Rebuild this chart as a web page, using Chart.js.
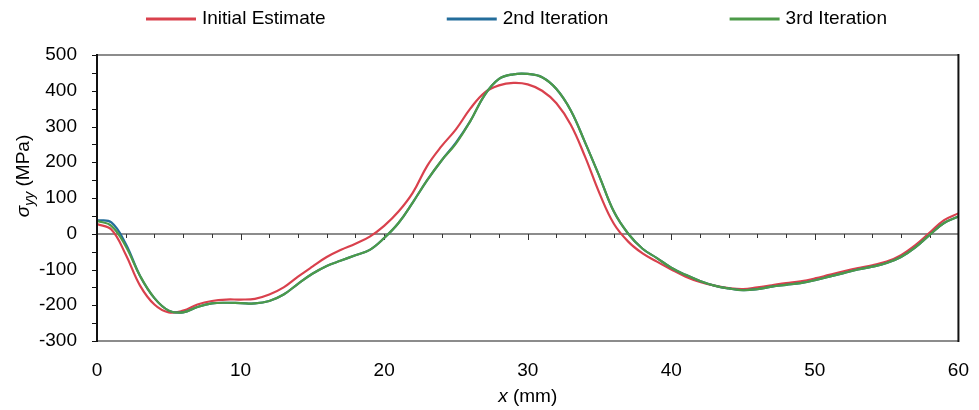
<!DOCTYPE html>
<html>
<head>
<meta charset="utf-8">
<script src="https://cdn.jsdelivr.net/npm/chart.js@4.4.1/dist/chart.umd.min.js"></script>
<style>
  html, body { margin: 0; padding: 0; background: #fff; }
</style>
</head>
<body>
<canvas id="stressChart" width="979" height="410"></canvas>
<script>
// x positions (mm)
var xPos = [0, 1, 2, 3, 4, 5, 6, 7, 8, 9, 10, 11, 12, 13, 14, 15, 16, 17, 18, 19, 20,
            21, 22, 23, 24, 25, 26, 27, 28, 29, 30, 31, 32, 33, 34, 35, 36, 37, 38, 39, 40,
            41, 42, 43, 44, 45, 46, 47, 48, 49, 50, 51, 52, 53, 54, 55, 56, 57, 58, 59, 60];

// sigma_yy (MPa)
var initialEstimate = [27, 12, -58, -145, -198, -220, -215, -198, -188, -184, -184, -182, -170, -150, -120, -92, -65, -45, -28, -8, 22,
                       62, 115, 190, 245, 292, 350, 395, 415, 422, 418, 400, 365, 305, 215, 113, 28, -22, -55, -78, -100,
                       -120, -135, -145, -152, -155, -150, -144, -138, -133, -125, -115, -105, -96, -88, -78, -60, -32, 3, 38, 57];
var secondIteration = [38, 32, -28, -118, -180, -215, -220, -205, -195, -193, -194, -195, -188, -170, -140, -112, -90, -75, -60, -45, -12,
                       30, 88, 150, 205, 255, 315, 388, 433, 446, 447, 438, 405, 345, 255, 160, 62, 0, -42, -68, -95,
                       -115, -132, -145, -153, -158, -155, -148, -143, -138, -130, -120, -110, -100, -92, -82, -65, -38, -3, 30, 48];
var thirdIteration = [36, 22, -35, -118, -180, -215, -220, -205, -195, -193, -194, -195, -188, -170, -140, -112, -90, -75, -60, -45, -12,
                      30, 88, 150, 205, 252, 315, 388, 433, 446, 447, 438, 405, 345, 255, 160, 62, 0, -42, -68, -95,
                      -115, -132, -145, -153, -158, -155, -148, -143, -138, -130, -120, -110, -100, -92, -82, -65, -38, -3, 30, 48];

var seriesNames = ['Initial Estimate', '2nd Iteration', '3rd Iteration'];
var seriesColors = ['#d9414d', '#236d9b', '#4c9a48'];

var xMin = 0, xMax = 60, xStep = 10;
var yMin = -300, yMax = 500, yStep = 100;

var FONT = '"Liberation Sans", Arial, sans-serif';

function toPoints(values) {
  return values.map(function (v, i) { return { x: xPos[i], y: v }; });
}

function hline(ctx, x1, y1, x2, y2) {
  ctx.beginPath();
  ctx.moveTo(x1, y1);
  ctx.lineTo(x2, y2);
  ctx.stroke();
}

// zero line, frame, minor ticks, axis titles and legend
var decorPlugin = {
  id: 'decor',
  beforeDatasetsDraw: function (chart) {
    var ctx = chart.ctx, a = chart.chartArea;
    var xs = chart.scales.x, ys = chart.scales.y;
    var y0 = Math.round(ys.getPixelForValue(0));
    ctx.save();
    ctx.strokeStyle = '#8c8c8c';
    ctx.lineWidth = 2;
    hline(ctx, a.left, y0, a.right, y0);
    ctx.strokeStyle = '#333';
    ctx.lineWidth = 1;
    for (var v = 2; v < xMax; v += 2) {
      var px = Math.round(xs.getPixelForValue(v)) + 0.5;
      hline(ctx, px, y0, px, y0 + (v % 10 === 0 ? 6 : 4));
    }
    ctx.restore();
  },
  afterDatasetsDraw: function (chart) {
    var ctx = chart.ctx, a = chart.chartArea;
    var ys = chart.scales.y;
    ctx.save();
    // frame
    ctx.lineWidth = 2;
    ctx.strokeStyle = '#8c8c8c';
    hline(ctx, a.left, a.top, a.right, a.top);
    hline(ctx, a.left, a.bottom, a.right, a.bottom);
    ctx.strokeStyle = '#111';
    hline(ctx, a.left, a.top - 1, a.left, a.bottom + 1);
    hline(ctx, a.right, a.top - 1, a.right, a.bottom + 1);
    // y ticks every 50
    ctx.lineWidth = 1;
    for (var v = yMin; v <= yMax; v += 50) {
      var py = Math.round(ys.getPixelForValue(v)) + 0.5;
      hline(ctx, a.left - 5, py, a.left, py);
    }

    // y title: sigma_yy (MPa)
    ctx.fillStyle = '#000';
    ctx.textBaseline = 'middle';
    ctx.translate(24, (a.top + a.bottom) / 2 - 22);
    ctx.rotate(-Math.PI / 2);
    var f1 = 'italic 19px ' + FONT, f2 = 'italic 14px ' + FONT, f3 = '19px ' + FONT;
    ctx.font = f1; var w1 = ctx.measureText('\u03c3').width;
    ctx.font = f2; var w2 = ctx.measureText('yy').width;
    ctx.font = f3; var w3 = ctx.measureText(' (MPa)').width;
    var sx = -(w1 + w2 + w3) / 2;
    ctx.textAlign = 'left';
    ctx.font = f1; ctx.fillText('\u03c3', sx, 0);
    ctx.font = f2; ctx.fillText('yy', sx + w1, 6);
    ctx.font = f3; ctx.fillText(' (MPa)', sx + w1 + w2, 0);
    ctx.restore();

    // x title: x (mm)
    ctx.save();
    ctx.fillStyle = '#000';
    ctx.textBaseline = 'middle';
    ctx.textAlign = 'left';
    ctx.font = 'italic 19px ' + FONT; var xw1 = ctx.measureText('x').width;
    ctx.font = '19px ' + FONT; var xw2 = ctx.measureText(' (mm)').width;
    var cx = (a.left + a.right) / 2 - (xw1 + xw2) / 2;
    ctx.font = 'italic 19px ' + FONT; ctx.fillText('x', cx, 397);
    ctx.font = '19px ' + FONT; ctx.fillText(' (mm)', cx + xw1, 397);

    // legend
    ctx.font = '19px ' + FONT;
    var sets = chart.data.datasets;
    var widths = sets.map(function (d) { return 50 + 6 + ctx.measureText(d.label).width; });
    var startX = 146, endX = 887, legY = 19;
    var gap = (endX - startX - widths.reduce(function (s, w) { return s + w; }, 0)) / (sets.length - 1);
    var lx = startX;
    sets.forEach(function (d, i) {
      ctx.strokeStyle = d.borderColor;
      ctx.lineWidth = 3;
      hline(ctx, lx, legY, lx + 50, legY);
      ctx.fillStyle = '#000';
      ctx.fillText(d.label, lx + 56, legY);
      lx += widths[i] + gap;
    });
    ctx.restore();
  }
};

var allSeries = [initialEstimate, secondIteration, thirdIteration];
var orders = [2, 1, 0];

new Chart(document.getElementById('stressChart'), {
  type: 'line',
  data: {
    datasets: allSeries.map(function (vals, i) {
      return {
        label: seriesNames[i],
        data: toPoints(vals),
        borderColor: seriesColors[i],
        backgroundColor: seriesColors[i],
        borderWidth: 2.2,
        pointRadius: 0,
        fill: false,
        tension: 0.4,
        order: orders[i]
      };
    })
  },
  options: {
    responsive: false,
    animation: false,
    layout: { padding: { top: 55, right: 19, left: 0, bottom: 0 } },
    plugins: {
      legend: { display: false },
      tooltip: { enabled: false }
    },
    scales: {
      x: {
        type: 'linear',
        min: xMin, max: xMax,
        grid: { display: false },
        border: { display: false },
        ticks: { stepSize: xStep, color: '#000', padding: 10, font: { family: FONT, size: 19 } },
        afterFit: function (scale) { scale.height = 69; }
      },
      y: {
        min: yMin, max: yMax,
        grid: { display: false },
        border: { display: false },
        ticks: { stepSize: yStep, color: '#000', padding: 12, font: { family: FONT, size: 19 } },
        afterFit: function (scale) { scale.width = 97; }
      }
    }
  },
  plugins: [decorPlugin]
});
</script>
</body>
</html>
